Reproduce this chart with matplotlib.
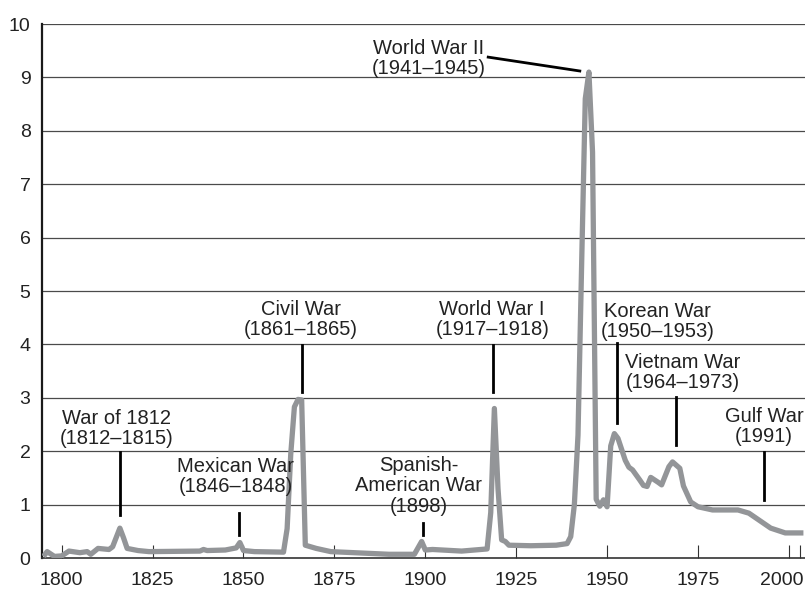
import matplotlib
matplotlib.use("Agg")
import matplotlib.pyplot as plt
from matplotlib.transforms import ScaledTranslation

plt.rcParams["font.family"] = ["Liberation Sans", "DejaVu Sans"]

# ---------------------------------------------------
# Data (year, value)
# ---------------------------------------------------
years = [1795, 1796, 1798, 1800, 1802, 1805, 1807, 1808, 1810, 1813, 1814,
         1816, 1817, 1818, 1821, 1824, 1838, 1839, 1840, 1845, 1848, 1849,
         1850, 1853, 1861, 1862, 1863, 1864, 1865, 1866, 1867, 1870, 1874,
         1890, 1897, 1899, 1900, 1902, 1910, 1917, 1918, 1919, 1920, 1921,
         1922, 1923, 1929, 1936, 1939, 1940, 1941, 1942, 1943, 1944, 1945,
         1946, 1947, 1948, 1949, 1950, 1951, 1952, 1953, 1955, 1956, 1957,
         1959, 1960, 1961, 1962, 1964, 1965, 1967, 1968, 1970, 1971, 1973,
         1975, 1979, 1986, 1989, 1992, 1995, 1999, 2004]
values = [0.03, 0.12, 0.03, 0.04, 0.13, 0.10, 0.12, 0.07, 0.18, 0.16, 0.21,
          0.56, 0.38, 0.18, 0.14, 0.12, 0.13, 0.16, 0.14, 0.15, 0.19, 0.29,
          0.14, 0.12, 0.11, 0.55, 1.95, 2.83, 2.97, 2.96, 0.24, 0.18, 0.12,
          0.07, 0.07, 0.31, 0.15, 0.16, 0.13, 0.17, 0.85, 2.80, 1.30, 0.34,
          0.31, 0.24, 0.23, 0.24, 0.27, 0.40, 1.00, 2.30, 5.50, 8.60, 9.10,
          7.60, 1.10, 0.97, 1.09, 0.96, 2.10, 2.33, 2.24, 1.83, 1.70, 1.65,
          1.46, 1.36, 1.34, 1.51, 1.42, 1.37, 1.71, 1.80, 1.68, 1.35, 1.05,
          0.96, 0.90, 0.90, 0.84, 0.70, 0.56, 0.47, 0.47]

x_ticks = [1800, 1825, 1850, 1875, 1900, 1925, 1950, 1975, 2000]
y_ticks = list(range(0, 11))

war_labels = ["War of 1812\n(1812\u20131815)",
              "Mexican War\n(1846\u20131848)",
              "Civil War\n(1861\u20131865)",
              "Spanish-\nAmerican War\n(1898)",
              "World War I\n(1917\u20131918)",
              "World War II\n(1941\u20131945)",
              "Korean War\n(1950\u20131953)",
              "Vietnam War\n(1964\u20131973)",
              "Gulf War\n(1991)"]

# label placement: text centre (x, y), leader line (x0, y0) -> (x1, y1)
label_pos = [(1815.0, 2.42), (1847.9, 1.53), (1865.8, 4.46), (1898.1, 1.35),
             (1918.4, 4.46), (1900.9, 9.36), (1963.8, 4.43), (1970.9, 3.47),
             (1993.2, 2.46)]
leaders = [((1815.9, 1.99), (1815.9, 0.80)),
           ((1848.9, 0.84), (1848.9, 0.43)),
           ((1866.0, 3.99), (1866.0, 3.11)),
           ((1899.3, 0.65), (1899.3, 0.43)),
           ((1918.7, 3.99), (1918.7, 3.11)),
           ((1917.3, 9.38), (1942.5, 9.12)),
           ((1952.6, 4.03), (1952.6, 2.53)),
           ((1969.0, 3.01), (1969.0, 2.12)),
           ((1993.2, 1.99), (1993.2, 1.09))]

# ---------------------------------------------------
# Plot
# ---------------------------------------------------
fig = plt.figure(figsize=(8.05, 5.9), dpi=100)
ax = fig.add_axes([0.0518, 0.0542, 0.9476, 0.9051])

ax.plot(years, values, color="#939598", lw=3.8,
        solid_joinstyle="round", solid_capstyle="butt", zorder=3)

ax.set_xlim(1794.5, 2004.3)
ax.set_ylim(0, 10)

for y in y_ticks[1:]:
    ax.axhline(y, color="#4a4a4a", lw=0.9, zorder=1)

ax.set_xticks(x_ticks)
ax.set_xticks([2003], minor=True)
ax.set_yticks(y_ticks)
ax.tick_params(axis="x", which="both", direction="in", length=9.5, width=0.8,
               color="#333333", labelsize=14, pad=10, labelcolor="#222222")
ax.tick_params(axis="y", length=0, labelsize=14, pad=8, labelcolor="#222222")

# last year label sits a little to the left so it fits in the frame
last = ax.get_xticklabels()[-1]
last.set_transform(last.get_transform() + ScaledTranslation(-7 / 100, 0, fig.dpi_scale_trans))

for side in ["top", "right"]:
    ax.spines[side].set_visible(False)
ax.spines["left"].set_linewidth(1.6)
ax.spines["left"].set_color("#1a1a1a")
ax.spines["bottom"].set_linewidth(1.2)
ax.spines["bottom"].set_color("#333333")

for text, (tx, ty), ((x0, y0), (x1, y1)) in zip(war_labels, label_pos, leaders):
    ax.text(tx, ty, text, ha="center", va="center", fontsize=14.5,
            linespacing=1.08, color="#222222", zorder=4)
    ax.plot([x0, x1], [y0, y1], color="black", lw=2, zorder=4)

fig.savefig("out.png", dpi=100)
